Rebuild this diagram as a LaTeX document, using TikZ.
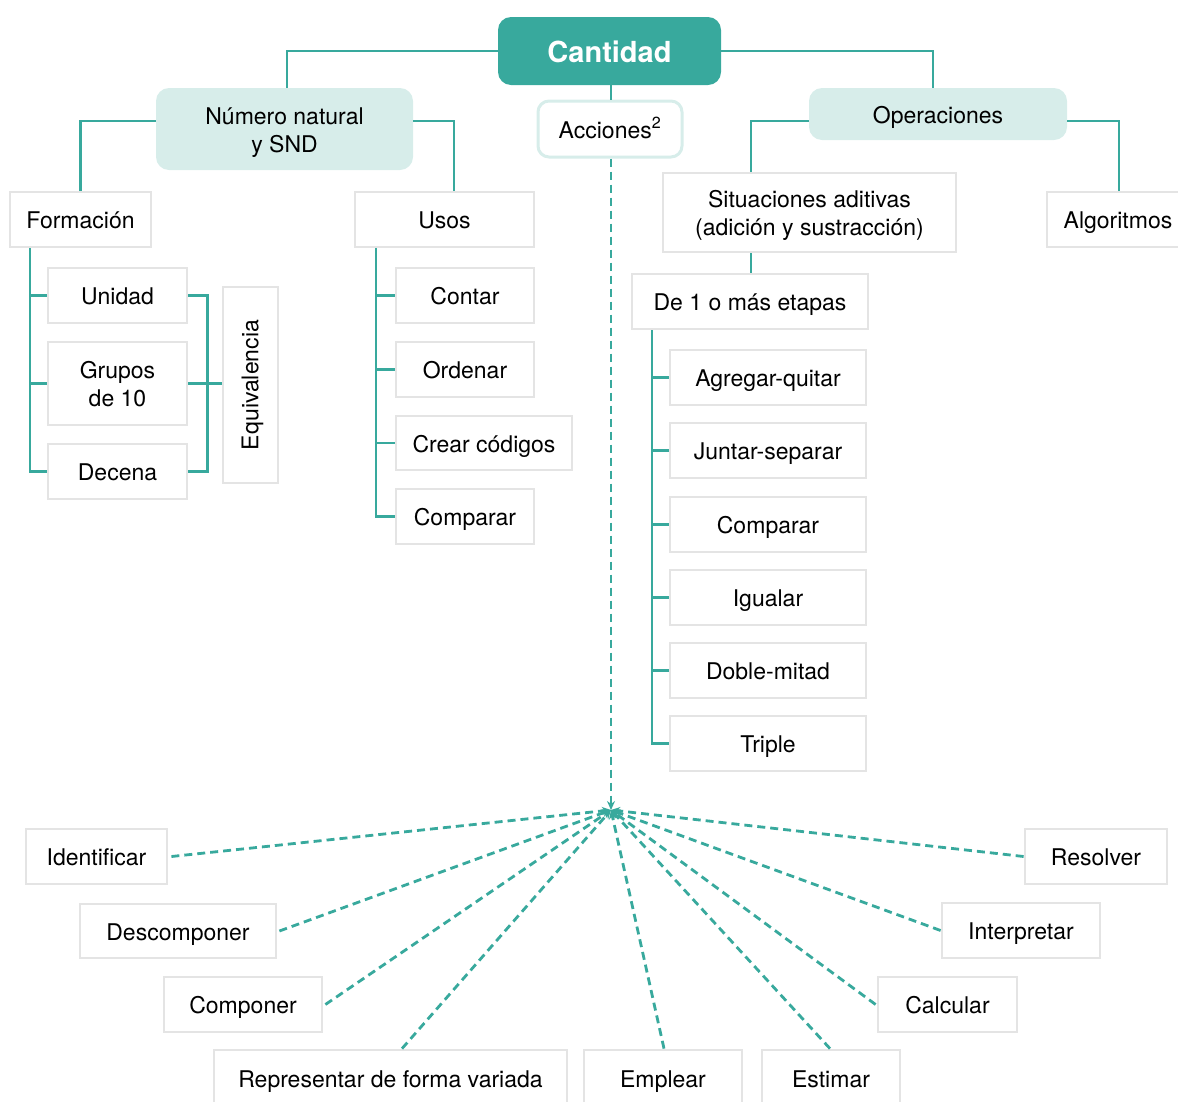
\documentclass[tikz,border=0pt]{standalone}
\usepackage{fontspec}
\setmainfont{TeX Gyre Heros}
\usetikzlibrary{arrows.meta}
\definecolor{tealc}{RGB}{56,169,157}
\definecolor{lightc}{RGB}{215,237,234}
\definecolor{boxgray}{RGB}{228,228,228}
\begin{document}
\begin{tikzpicture}[x=1pt,y=-1pt,
  every node/.style={font=\fontsize{23}{28}\selectfont, align=center, inner sep=0pt},
  gbox/.style={draw=boxgray, line width=2.8pt, fill=white},
  tbox/.style={fill=lightc, rounded corners=13pt},
  conn/.style={draw=tealc, line width=2.8pt},
  dashline/.style={draw=tealc, line width=2.8pt, dash pattern=on 8pt off 5pt,
    -{Stealth[length=9pt,width=8pt]}},
  % single-line boxes: fixed text height/depth so baselines line up
  sz/.style n args={2}{minimum width=#1, minimum height=#2, text height=22pt, text depth=4pt},
  % two-line boxes
  szm/.style n args={2}{minimum width=#1, minimum height=#2}]
\useasboundingbox (0,0) rectangle (1178,1101);
\clip (0,0) rectangle (1178,1101);

% top level
\node[fill=tealc, rounded corners=13pt, sz={223pt}{68pt}, text height=26pt, text depth=3pt,
  text=white, font=\fontsize{29}{34}\selectfont\bfseries] (cant) at (609.5,51) {Cantidad};
\node[draw=lightc, line width=3pt, fill=white, rounded corners=11pt, sz={144pt}{56pt}]
  (acc) at (610,129) {Acciones\textsuperscript{2}};
\node[tbox, szm={257pt}{82pt}] (num) at (284.5,129) {};
\node at ([yshift=-4pt]num.center) {Número natural\\y SND};
\node[tbox, sz={258pt}{52pt}] (ope) at (938,114) {Operaciones};

% número natural branch
\node[gbox, sz={141pt}{55pt}] (form) at (80.5,219.5) {Formación};
\node[gbox, sz={179pt}{55pt}] (usos) at (444.5,219.5) {Usos};
\node[gbox, sz={139pt}{55pt}] (uni) at (117.5,295.5) {Unidad};
\node[gbox, szm={139pt}{83pt}] (gru) at (117.5,383.5) {};
\node at ([yshift=-1pt]gru.center) {Grupos\\de 10};
\node[gbox, sz={139pt}{55pt}] (dec) at (117.5,471.5) {Decena};
\node[gbox, szm={55pt}{196pt}] (equ) at (250.5,385) {};
\node[rotate=90] at ([xshift=2pt]equ.center) {Equivalencia};
\node[gbox, sz={138pt}{55pt}] (con) at (465,295.5) {Contar};
\node[gbox, sz={138pt}{55pt}] (ord) at (465,369.5) {Ordenar};
\node[gbox, sz={176pt}{54pt}] (cre) at (484,443) {Crear códigos};
\node[gbox, sz={138pt}{55pt}] (cmp) at (465,516.5) {Comparar};

% operaciones branch
\node[gbox, szm={293pt}{79pt}] (sit) at (809.5,212.5) {};
\node at ([yshift=-3pt]sit.center) {Situaciones aditivas\\(adición y sustracción)};
\node[gbox, sz={142pt}{55pt}] (alg) at (1118,219.5) {Algoritmos};
\node[gbox, sz={236pt}{55pt}] (de1) at (750,301.5) {De 1 o más etapas};
\node[gbox, sz={196pt}{55pt}] (agr) at (768,377.5) {Agregar-quitar};
\node[gbox, sz={196pt}{55pt}] (jun) at (768,450.5) {Juntar-separar};
\node[gbox, sz={196pt}{55pt}] (cmq) at (768,524.5) {Comparar};
\node[gbox, sz={196pt}{55pt}] (igu) at (768,597.5) {Igualar};
\node[gbox, sz={196pt}{55pt}] (dob) at (768,670.5) {Doble-mitad};
\node[gbox, sz={196pt}{55pt}] (tri) at (768,743.5) {Triple};

% acciones
\coordinate (hub) at (611,810);
\node[gbox, sz={141pt}{55pt}] (ide) at (96.5,856.5) {Identificar};
\node[gbox, sz={196pt}{54pt}] (des) at (178,931) {Descomponer};
\node[gbox, sz={158pt}{55pt}] (cpn) at (243,1004.5) {Componer};
\node[gbox, sz={353pt}{56pt}] (rep) at (390.5,1078) {Representar de forma variada};
\node[gbox, sz={158pt}{56pt}] (emp) at (663,1078) {Emplear};
\node[gbox, sz={138pt}{56pt}] (est) at (831,1078) {Estimar};
\node[gbox, sz={139pt}{55pt}] (cal) at (947.5,1004.5) {Calcular};
\node[gbox, sz={158pt}{55pt}] (int) at (1021,930.5) {Interpretar};
\node[gbox, sz={142pt}{55pt}] (res) at (1096,856.5) {Resolver};

% solid connectors
\draw[conn] (cant.west) -| ([xshift=2.5pt]num.north);
\draw[conn] (cant.east) -| ([xshift=-5pt]ope.north);
\draw[conn] ([xshift=1.5pt]cant.south) -- ([xshift=1pt]acc.north);
\draw[conn] ([yshift=8pt]num.west) -| (form.north);
\draw[conn] ([yshift=8pt]num.east) -| ([xshift=9.5pt]usos.north);
\draw[conn] ([yshift=-7pt]ope.west) -| ([xshift=1pt]de1.north |- sit.north);
\draw[conn] ([xshift=1pt]de1.north |- sit.south) -- ([xshift=1pt]de1.north);
\draw[conn] ([yshift=-7pt]ope.east) -| ([xshift=1pt]alg.north);

\coordinate (ft) at ([xshift=-50.5pt]form.south);
\draw[conn] (ft) |- (dec.west);
\draw[conn] (ft |- uni.west) -- (uni.west);
\draw[conn] (ft |- gru.west) -- (gru.west);
\draw[conn] (uni.east) -- ++(19,0) |- (dec.east);
\draw[conn] (gru.east) -- (gru.east -| equ.west);

\coordinate (ut) at ([xshift=-68.5pt]usos.south);
\draw[conn] (ut) |- (cmp.west);
\draw[conn] (ut |- con.west) -- (con.west);
\draw[conn] (ut |- ord.west) -- (ord.west);
\draw[conn] (ut |- cre.west) -- (cre.west);

\coordinate (dt) at ([xshift=-98pt]de1.south);
\draw[conn] (dt) |- (tri.west);
\foreach \n in {agr,jun,cmq,igu,dob}
  \draw[conn] (dt |- \n.west) -- (\n.west);

% dashed connectors
\draw[dashline] ([xshift=1pt]acc.south) -- (hub);
\draw[dashline] ([xshift=3pt]ide.east) -- (hub);
\draw[dashline] ([xshift=2pt]des.east) -- (hub);
\draw[dashline] ([xshift=2pt]cpn.east) -- (hub);
\draw[dashline] ([xshift=11.5pt]rep.north) -- (hub);
\draw[dashline] ([xshift=1pt]emp.north) -- (hub);
\draw[dashline] ([xshift=-1pt]est.north) -- (hub);
\draw[dashline] ([xshift=-1pt]cal.west) -- (hub);
\draw[dashline] (int.west) -- (hub);
\draw[dashline] (res.west) -- (hub);
\end{tikzpicture}
\end{document}
